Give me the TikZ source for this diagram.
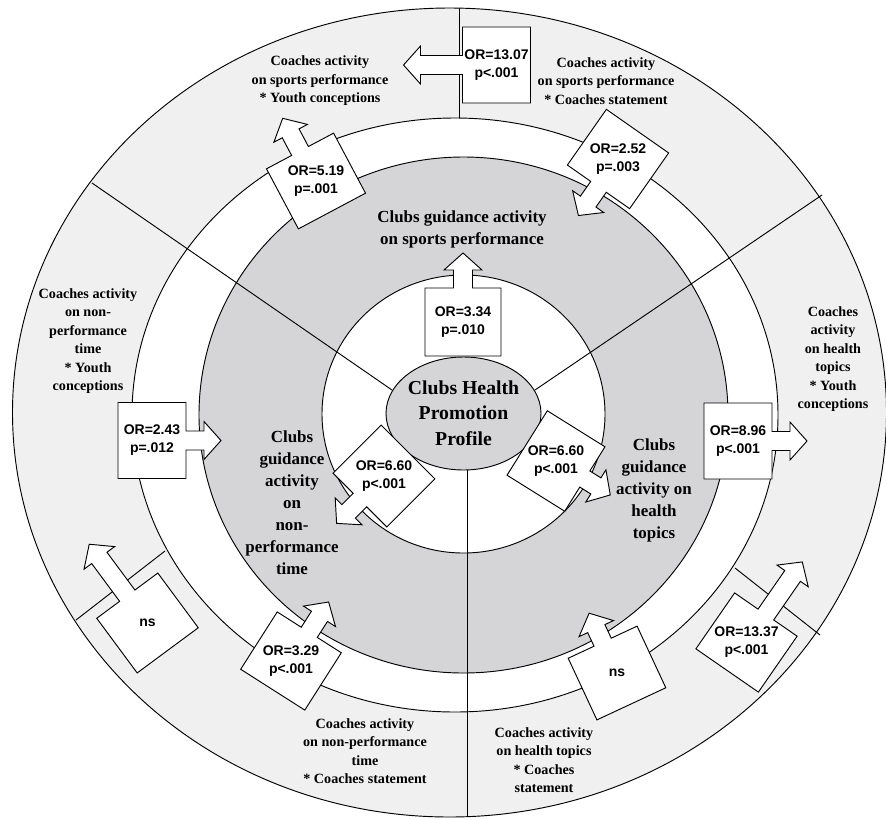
\documentclass[tikz,border=0pt]{standalone}
\usepackage{fontspec}
\setmainfont{Liberation Serif}
\newfontfamily\orfont{Liberation Sans}
\usetikzlibrary{positioning}

\definecolor{coachring}{RGB}{239,240,239}
\definecolor{clubring}{RGB}{213,213,216}

\tikzset{
  ringline/.style={line width=0.7pt, color=black},
  callout/.style={line width=0.7pt, draw=black, fill=white},
  ortext/.style={font=\orfont\bfseries\fontsize{10.5}{13.5}\selectfont, align=center, inner sep=0pt},
  coachtext/.style={font=\bfseries\fontsize{10.6}{13.9}\selectfont, align=center, inner sep=0pt},
  clubtext/.style={font=\bfseries\fontsize{12.7}{16.5}\selectfont, align=center, inner sep=0pt},
  hubtext/.style={font=\bfseries\fontsize{14.8}{19}\selectfont, align=center, inner sep=0pt}
}

\newcommand{\orcallout}[5]{
  \begin{scope}[shift={#2}, rotate=#3]
    \draw[callout] (-38,-34) -- (-9.5,-34) -- (-9.5,{-17-#4}) -- (-19,{-17-#4}) -- (0,{-34-#4})
      -- (19,{-17-#4}) -- (9.5,{-17-#4}) -- (9.5,-34) -- (38,-34) -- (38,34) -- (-38,34) -- cycle;
  \end{scope}
  \node[ortext] (#1) at #2 {#5};
}

\begin{document}
\begin{tikzpicture}[x=0.75pt, y=-0.75pt]
\useasboundingbox (0,0) rectangle (886,819);

\filldraw[ringline, fill=coachring] (449.5,412.5) ellipse [x radius=437, y radius=404.5];
\filldraw[ringline, fill=white] (455,415) ellipse [x radius=323, y radius=297];
\filldraw[ringline, fill=clubring] (463.5,415) ellipse [x radius=264.5, y radius=258];
\filldraw[ringline, fill=white] (463.5,414) ellipse [x radius=141.5, y radius=139];
\filldraw[ringline, fill=clubring] (463.5,413.5) ellipse [x radius=77.5, y radius=56.5];

\draw[ringline] (459,8) -- (459,118);
\draw[ringline] (467,470) -- (467,817);
\draw[ringline] (392,390) -- (92,183);
\draw[ringline] (535,390) -- (822,195);
\draw[ringline] (165,551) -- (76,620);
\draw[ringline] (735,568) -- (820,635);

\orcallout{or1307}{(496.5,65)}{90}{59}{OR=13.07\\p<.001}
\orcallout{or519}{(316,181)}{28}{37}{OR=5.19\\p=.001}
\orcallout{or252}{(618,159)}{145}{35}{OR=2.52\\p=.003}
\orcallout{or334}{(463,322)}{0}{35}{OR=3.34\\p=.010}
\orcallout{or243}{(152,440.5)}{-90}{35}{OR=2.43\\p=.012}
\orcallout{or896}{(738,441)}{-90}{35}{OR=8.96\\p<.001}
\orcallout{or660a}{(384,476)}{135}{33}{OR=6.60\\p<.001}
\orcallout{or660b}{(556,461)}{-122}{30}{OR=6.60\\p<.001}
\orcallout{nsleft}{(147.5,623)}{36.5}{64}{ns}
\orcallout{or329}{(291,661)}{-32.5}{36}{OR=3.29\\p<.001}
\orcallout{nsright}{(617,673)}{25}{32}{ns}
\orcallout{or1337}{(746.5,642.5)}{-34.7}{64}{OR=13.37\\p<.001}

\node[coachtext] (sportyouth) at (320,81) {Coaches activity\\on sports performance\\* Youth conceptions};
\node[coachtext] (sportcoach) at (606,81) {Coaches activity\\on sports performance\\* Coaches statement};
\node[coachtext] (nonperfyouth) at (88,341) {Coaches activity\\on non-\\performance\\time\\* Youth\\conceptions};
\node[coachtext] (healthyouth) at (833,359) {Coaches\\activity\\on health\\topics\\* Youth\\conceptions};
\node[coachtext] (nonperfcoach) at (365,751) {Coaches activity\\on non-performance\\time\\* Coaches statement};
\node[coachtext] (healthcoach) at (544,760) {Coaches activity\\on health topics\\* Coaches\\statement};

\node[clubtext] (clubsport) at (462,229) {Clubs guidance activity\\on sports performance};
\node[clubtext] (clubnonperf) at (292,503) {Clubs\\guidance\\activity\\on\\non-\\performance\\time};
\node[clubtext] (clubhealth) at (654,490) {Clubs\\guidance\\activity on\\health\\topics};

\node[hubtext] (hub) at (463.5,413) {Clubs Health\\Promotion\\Profile};
\end{tikzpicture}
\end{document}
